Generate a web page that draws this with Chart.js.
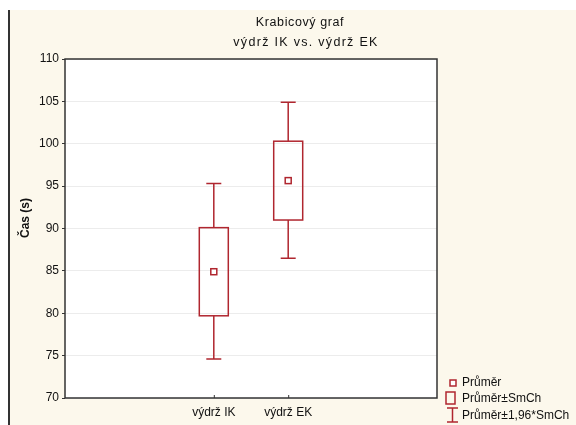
<!DOCTYPE html>
<html><head><meta charset="utf-8">
<script src="https://cdn.jsdelivr.net/npm/chart.js@4"></script>
<style>html,body{margin:0;padding:0;background:#fff}#c{display:block}</style>
</head><body>
<canvas id="c" width="576" height="425"></canvas>
<script>
const categories = ['výdrž IK', 'výdrž EK'];
const catPos = [2, 3];
const means = [84.9, 95.65];
const boxLow = [79.7, 91.0];
const boxHigh = [90.1, 100.3];
const whiskLow = [74.6, 86.5];
const whiskHigh = [95.3, 104.9];
const yTicks = [70, 75, 80, 85, 90, 95, 100, 105, 110];
const RED = '#b0262f';
const FONT = '"Liberation Sans", Arial, sans-serif';

const boxPlugin = {
  id: 'boxPlugin',
  beforeDraw(chart) {
    const c = chart.ctx, a = chart.chartArea;
    c.save();
    c.fillStyle = '#ffffff'; c.fillRect(0, 0, 576, 425);
    c.fillStyle = '#fcf8ec'; c.fillRect(10, 10, 566, 415);
    c.fillStyle = '#333'; c.fillRect(8, 10, 2, 415);
    c.fillStyle = '#ffffff'; c.fillRect(a.left, a.top, a.right - a.left, a.bottom - a.top);
    // titles
    c.fillStyle = '#111';
    c.font = '12.5px ' + FONT;
    c.textAlign = 'center'; c.textBaseline = 'middle';
    c.letterSpacing = '0.6px';
    c.fillText('Krabicový graf', 300, 23);
    c.letterSpacing = '1.3px';
    c.fillText('výdrž IK vs. výdrž EK', 306, 43);
    c.letterSpacing = '0px';
    // y title
    c.save();
    c.translate(26, 218); c.rotate(-Math.PI / 2);
    c.font = 'bold 12px ' + FONT;
    c.fillText('Čas (s)', 0, 0);
    c.restore();
    c.restore();
  },
  afterDatasetsDraw(chart) {
    const c = chart.ctx, a = chart.chartArea;
    const xs = chart.scales.x, ys = chart.scales.y;
    c.save();
    c.strokeStyle = RED; c.lineWidth = 1.5;
    for (let i = 0; i < categories.length; i++) {
      const x = xs.getPixelForValue(catPos[i]);
      const yb1 = ys.getPixelForValue(boxHigh[i]), yb0 = ys.getPixelForValue(boxLow[i]);
      const yw1 = ys.getPixelForValue(whiskHigh[i]), yw0 = ys.getPixelForValue(whiskLow[i]);
      c.strokeRect(x - 14.5, yb1, 29, yb0 - yb1);
      c.beginPath();
      c.moveTo(x, yb1); c.lineTo(x, yw1);
      c.moveTo(x - 7.5, yw1); c.lineTo(x + 7.5, yw1);
      c.moveTo(x, yb0); c.lineTo(x, yw0);
      c.moveTo(x - 7.5, yw0); c.lineTo(x + 7.5, yw0);
      c.stroke();
      const ym = ys.getPixelForValue(means[i]);
      c.fillStyle = '#fff';
      c.fillRect(x - 3, ym - 3, 6, 6);
      c.strokeRect(x - 3, ym - 3, 6, 6);
      c.save();
      c.strokeStyle = '#333'; c.lineWidth = 1;
      c.beginPath(); c.moveTo(x + 0.5, a.bottom); c.lineTo(x + 0.5, a.bottom - 3); c.stroke();
      c.restore();
    }
    // plot border
    c.strokeStyle = '#333'; c.lineWidth = 1.5;
    c.strokeRect(a.left, a.top, a.right - a.left, a.bottom - a.top);
    // legend
    c.strokeStyle = RED; c.lineWidth = 1.5;
    c.fillStyle = '#fff';
    c.fillRect(450, 380, 6, 6); c.strokeRect(450, 380, 6, 6);
    c.strokeRect(446, 392, 9, 12);
    c.beginPath();
    c.moveTo(447, 408); c.lineTo(458, 408);
    c.moveTo(452.5, 408); c.lineTo(452.5, 422);
    c.moveTo(447, 422); c.lineTo(458, 422);
    c.stroke();
    c.fillStyle = '#111';
    c.font = '12px ' + FONT;
    c.textAlign = 'left'; c.textBaseline = 'middle';
    c.fillText('Průměr', 462, 383);
    c.fillText('Průměr±SmCh', 462, 399);
    c.fillText('Průměr±1,96*SmCh', 462, 416);
    c.restore();
  }
};

new Chart(document.getElementById('c'), {
  type: 'scatter',
  data: { datasets: [{ data: catPos.map((p, i) => ({ x: p, y: means[i] })), pointRadius: 0, showLine: false }] },
  options: {
    responsive: false, animation: false,
    devicePixelRatio: 1,
    layout: { padding: { left: 0, top: 59, right: 139, bottom: 0 } },
    plugins: { legend: { display: false }, tooltip: { enabled: false } },
    scales: {
      x: {
        type: 'linear', min: 0, max: 5,
        afterBuildTicks: s => { s.ticks = catPos.map(v => ({ value: v })); },
        afterFit: s => { s.height = 27; },
        grid: { display: false, drawTicks: false },
        border: { display: false },
        ticks: { padding: 7, color: '#111', font: { family: FONT, size: 12 },
          callback: v => categories[catPos.indexOf(v)] }
      },
      y: {
        min: 70, max: 110,
        afterBuildTicks: s => { s.ticks = yTicks.map(v => ({ value: v })); },
        afterFit: s => { s.width = 65; },
        grid: { color: '#ececec', tickColor: '#333', tickLength: 3, drawOnChartArea: true },
        border: { display: false },
        ticks: { padding: 3, color: '#111', font: { family: FONT, size: 12 } }
      }
    }
  },
  plugins: [boxPlugin]
});
</script>
</body></html>
